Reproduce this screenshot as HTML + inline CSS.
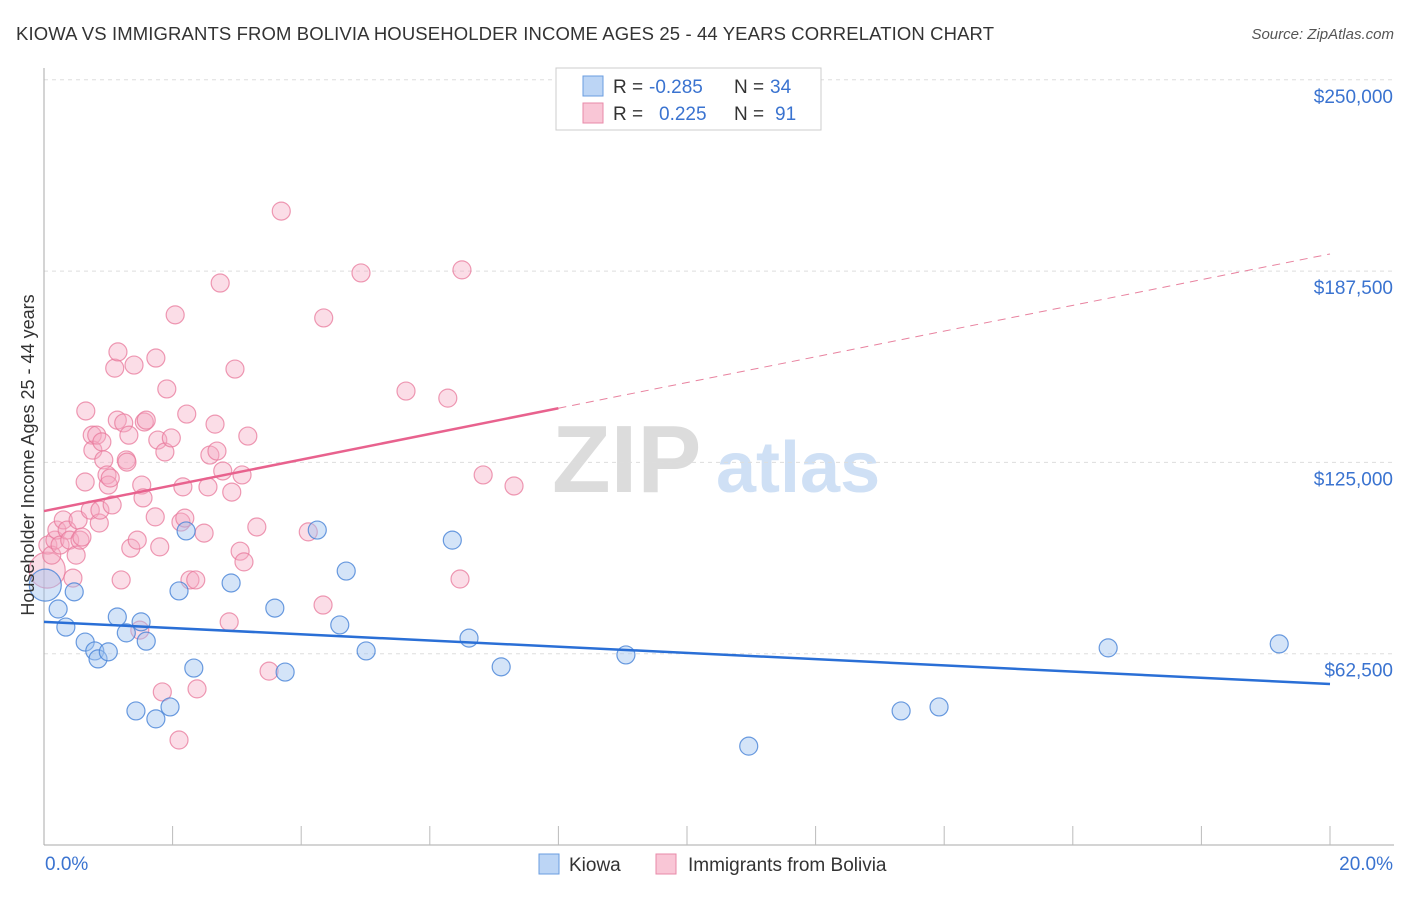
<!DOCTYPE html>
<html><head><meta charset="utf-8">
<style>
body{margin:0;background:#fff;font-family:"Liberation Sans",sans-serif;}
svg text{font-family:"Liberation Sans",sans-serif;}
</style></head>
<body>
<svg id="chart" width="1406" height="892" xmlns="http://www.w3.org/2000/svg">
<text x="16" y="40" font-size="18.5" fill="#333" textLength="978">KIOWA VS IMMIGRANTS FROM BOLIVIA HOUSEHOLDER INCOME AGES 25 - 44 YEARS CORRELATION CHART</text>
<text x="1394" y="39" font-size="15" fill="#555" text-anchor="end" font-style="italic">Source: ZipAtlas.com</text>
<g>
<text x="552" y="492" font-size="96" fill="#dcdcdc" font-family="Liberation Serif,serif" font-weight="bold">ZIP</text>
<text x="716" y="492" font-size="72" fill="#cfe0f5" font-weight="bold">atlas</text>
</g>
<g id="grid"></g>
<g id="axes"></g>
<g id="marks"></g>
<g id="trends"></g>
<text transform="translate(34,455) rotate(-90)" font-size="18" fill="#333" text-anchor="middle">Householder Income Ages 25 - 44 years</text>
<g>
<rect x="556" y="68" width="265" height="62" fill="#fff" stroke="#ccc"/>
<rect x="583" y="76" width="20" height="20" fill="#bcd5f5" stroke="#6a9de0"/>
<rect x="583" y="103" width="20" height="20" fill="#f9c6d6" stroke="#e88aa8"/>
<text x="613" y="93" font-size="19" fill="#333">R =</text>
<text x="649" y="93" font-size="19" fill="#3a73d0">-0.285</text>
<text x="734" y="93" font-size="19" fill="#333">N =</text>
<text x="770" y="93" font-size="19" fill="#3a73d0">34</text>
<text x="613" y="120" font-size="19" fill="#333">R =</text>
<text x="659" y="120" font-size="19" fill="#3a73d0">0.225</text>
<text x="734" y="120" font-size="19" fill="#333">N =</text>
<text x="775" y="120" font-size="19" fill="#3a73d0">91</text>
</g>
<g>
<rect x="539" y="854" width="20" height="20" fill="#bcd5f5" stroke="#6a9de0"/>
<text x="569" y="871" font-size="19" fill="#333">Kiowa</text>
<rect x="656" y="854" width="20" height="20" fill="#f9c6d6" stroke="#e88aa8"/>
<text x="688" y="871" font-size="19" fill="#333">Immigrants from Bolivia</text>
</g>
</svg>
<script>
const yTicks=[62.5,125,187.5,250];
const yTickLabels=["$62,500","$125,000","$187,500","$250,000"];
const xTickLabels=["0.0%","20.0%"];
const kiowaX=[0.02,0.22,0.47,0.34,0.64,0.79,0.84,1.00,1.14,1.28,1.51,1.59,1.43,1.74,1.96,2.10,2.21,2.33,2.91,3.59,3.75,4.25,4.60,4.70,5.01,6.35,6.61,7.11,9.05,10.96,13.33,13.92,16.55,19.21];
const kiowaY=[84.9,77.1,82.7,71.2,66.3,63.4,60.8,63.1,74.5,69.3,72.9,66.6,43.8,41.2,45.1,83.0,102.6,57.8,85.6,77.4,56.5,102.9,71.9,89.5,63.4,99.6,67.6,58.2,62.1,32.3,43.8,45.1,64.4,65.7];
const bolX=[0.05,0.06,0.12,0.17,0.20,0.25,0.30,0.36,0.40,0.45,0.50,0.53,0.56,0.59,0.64,0.65,0.72,0.75,0.76,0.82,0.86,0.87,0.90,0.93,0.98,1.00,1.03,1.06,1.10,1.14,1.15,1.20,1.24,1.28,1.29,1.32,1.35,1.40,1.45,1.49,1.52,1.54,1.56,1.59,1.73,1.74,1.77,1.80,1.88,1.91,1.98,2.04,2.10,2.13,2.16,2.19,2.22,2.27,2.36,2.38,1.84,2.49,2.55,2.58,2.66,2.69,2.74,2.78,2.88,2.92,2.97,3.05,3.08,3.11,3.17,3.31,3.50,3.69,4.11,4.34,4.35,4.93,5.63,6.28,6.47,6.50,6.83,7.31];
const bolY=[89.8,98.0,94.7,99.6,102.9,98.0,106.2,102.9,99.6,87.2,94.7,106.2,99.6,100.6,118.6,141.8,109.4,133.9,129.0,133.9,105.2,109.4,131.7,125.8,120.9,117.6,119.9,111.1,155.8,138.8,161.1,86.6,137.9,125.8,125.1,133.9,97.0,156.8,99.6,70.2,117.6,113.4,138.2,138.8,107.2,159.1,132.3,97.4,128.4,149.0,133.0,173.2,34.3,105.5,117.0,106.8,140.8,86.6,86.6,51.0,50.0,101.9,117.0,127.4,137.5,128.7,183.6,122.2,72.9,115.3,155.5,96.0,120.9,92.5,133.6,103.9,56.8,207.1,102.3,78.4,172.2,186.9,148.3,146.0,86.9,187.9,120.9,117.3];
const kiowaTrend=[72.9,52.6];   // values at 0% and 20%
const bolTrend=[109.1,193.1];   // values at 0% and 20%
const bolSolidEnd=8.0;

const NS="http://www.w3.org/2000/svg";
const X=v=>44+v*64.3;
const Y=v=>845-v*3.0608;
function mk(tag,attrs,parent){const e=document.createElementNS(NS,tag);for(const k in attrs)e.setAttribute(k,attrs[k]);parent.appendChild(e);return e;}
const grid=document.getElementById('grid'),axes=document.getElementById('axes'),marks=document.getElementById('marks'),trends=document.getElementById('trends');
yTicks.forEach((t,i)=>{
  const l=mk('line',{x1:44,x2:1394,y1:Y(t),y2:Y(t),stroke:'#ddd','stroke-dasharray':'4,4'},grid);
  
  
  const tx=mk('text',{x:1393,y:Y(t)+23,'font-size':19,fill:'#3a73d0','text-anchor':'end'},axes);
  tx.textContent=yTickLabels[i];
  
  
});
mk('line',{x1:44,x2:44,y1:68,y2:845,stroke:'#aaa'},axes);
mk('line',{x1:44,x2:1394,y1:845,y2:845,stroke:'#aaa'},axes);
for(let i=1;i<=10;i++){mk('line',{x1:X(i*2),x2:X(i*2),y1:826,y2:845,stroke:'#bbb'},axes);}
const xl0=mk('text',{x:45,y:870,'font-size':19,fill:'#3a73d0'},axes);xl0.textContent=xTickLabels[0];


const xl1=mk('text',{x:1393,y:870,'font-size':19,fill:'#3a73d0','text-anchor':'end'},axes);xl1.textContent=xTickLabels[1];



bolX.forEach((x,i)=>{
  const c=mk('circle',{cx:X(x),cy:Y(bolY[i]),r:i===0?18:9,fill:'rgba(246,170,195,0.4)',stroke:'rgba(232,120,155,0.75)','stroke-width':1.2},marks);
  
  
});
kiowaX.forEach((x,i)=>{
  const c=mk('circle',{cx:X(x),cy:Y(kiowaY[i]),r:i===0?16:9,fill:'rgba(160,195,240,0.45)',stroke:'rgba(70,130,215,0.8)','stroke-width':1.2},marks);
  
  
});
const bt=v=>bolTrend[0]+(bolTrend[1]-bolTrend[0])*v/20;
const l1=mk('line',{x1:X(0),y1:Y(kiowaTrend[0]),x2:X(20),y2:Y(kiowaTrend[1]),stroke:'#2a6fd6','stroke-width':2.5},trends);


const l2=mk('line',{x1:X(0),y1:Y(bt(0)),x2:X(bolSolidEnd),y2:Y(bt(bolSolidEnd)),stroke:'#e8628e','stroke-width':2.5},trends);


const l3=mk('line',{x1:X(bolSolidEnd),y1:Y(bt(bolSolidEnd)),x2:X(20),y2:Y(bt(20)),stroke:'#e8829f','stroke-width':1,'stroke-dasharray':'8,6'},trends);


</script>
</body></html>
